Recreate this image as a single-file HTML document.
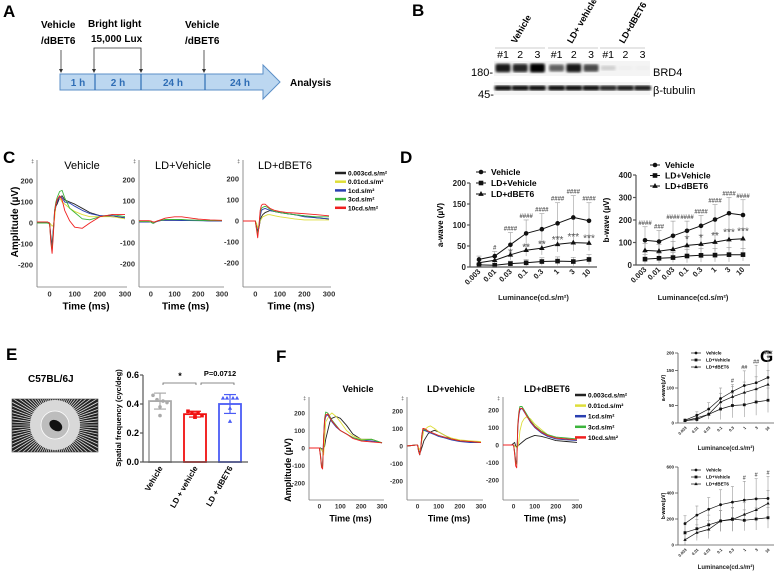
<!DOCTYPE html>
<html><head><meta charset="utf-8">
<style>
html,body{margin:0;padding:0;background:#fff;}
svg{display:block;font-family:"Liberation Sans",sans-serif;}
</style></head>
<body>
<svg id="fig" width="784" height="571" viewBox="0 0 784 571" xmlns="http://www.w3.org/2000/svg">
<defs>
<filter id="blur1"><feGaussianBlur stdDeviation="1.2"/></filter>
<clipPath id="imgclip"><rect x="12" y="399" width="86" height="53"/></clipPath>
</defs>
<!-- Panel A -->
<g>
<text x="3" y="17" font-size="17" font-weight="bold">A</text>
<polygon points="60,74 263,74 263,65 280,82 263,99 263,90 60,90" fill="#bcd7f0" stroke="#5b8fc7" stroke-width="1"/>
<line x1="95" y1="74" x2="95" y2="90" stroke="#2e6db5" stroke-width="1.2"/>
<line x1="141" y1="74" x2="141" y2="90" stroke="#2e6db5" stroke-width="1.2"/>
<line x1="205" y1="74" x2="205" y2="90" stroke="#2e6db5" stroke-width="1.2"/>
<g font-size="10" font-weight="bold" fill="#2e6db5" text-anchor="middle">
<text x="78" y="86">1 h</text>
<text x="118" y="86">2 h</text>
<text x="173" y="86">24 h</text>
<text x="240" y="86">24 h</text>
</g>
<text x="290" y="86" font-size="10" font-weight="bold">Analysis</text>
<g font-size="10" font-weight="bold">
<text x="41" y="28">Vehicle</text>
<text x="41" y="44">/dBET6</text>
<text x="88" y="27">Bright light</text>
<text x="91" y="42">15,000 Lux</text>
<text x="185" y="28">Vehicle</text>
<text x="185" y="44">/dBET6</text>
</g>
<g stroke="#333" stroke-width="0.8" fill="none">
<line x1="61" y1="50" x2="61" y2="70"/>
<polyline points="94,70 94,48 141,48 141,70"/>
<line x1="204" y1="50" x2="204" y2="70"/>
</g>
<g fill="#333"><polygon points="59,69 63,69 61,73"/><polygon points="92,69 96,69 94,73"/><polygon points="139,69 143,69 141,73"/><polygon points="202,69 206,69 204,73"/></g>
</g>
<!-- Panel B -->
<g id="panelB">
<text x="412" y="16" font-size="17" font-weight="bold">B</text>
<g font-size="9" font-weight="bold">
<text transform="translate(516,44) rotate(-60)">Vehicle</text>
<text transform="translate(572,44) rotate(-60)">LD+ vehicle</text>
<text transform="translate(624,44) rotate(-60)">LD+dBET6</text>
</g>
<g stroke="#ccc" stroke-width="1"><line x1="495" y1="48" x2="545" y2="48"/><line x1="548" y1="48" x2="598" y2="48"/><line x1="600" y1="48" x2="645" y2="48"/></g>
<rect x="494" y="61" width="156" height="15" fill="#f4f4f4"/>
<rect x="494" y="82" width="156" height="13" fill="#f4f4f4"/>
<text x="471" y="76" font-size="11">180-</text>
<text x="478" y="98" font-size="11">45-</text>
<text x="653" y="76" font-size="11">BRD4</text>
<text x="653" y="94" font-size="11">β-tubulin</text>
</g>
<g id="panelC">
<text x="3" y="163" font-size="17" font-weight="bold">C</text>
<text transform="translate(18,222) rotate(-90)" text-anchor="middle" font-size="10" font-weight="bold">Amplitude (µV)</text>
</g>
<g id="panelD">
<text x="400" y="163" font-size="17" font-weight="bold">D</text>
</g>
<g id="panelE">
<text x="6" y="360" font-size="17" font-weight="bold">E</text>
<text x="28" y="382" font-size="10" font-weight="bold">C57BL/6J</text>
</g>
<g id="panelF">
<text x="276" y="362" font-size="17" font-weight="bold">F</text>
<text transform="translate(291,470) rotate(-90)" text-anchor="middle" font-size="9" font-weight="bold">Amplitude (µV)</text>
</g>
<g id="panelG">
<text x="760" y="362" font-size="17" font-weight="bold">G</text>
</g>
</svg>
<script>
// ===== Data =====
const blotBRD4 = [0.9, 0.85, 1.0, 0.6, 0.9, 0.7, 0.15, 0.02, 0.02];
const blotTubulin = [0.95, 0.95, 0.95, 0.95, 0.95, 0.95, 0.85, 0.9, 0.9];
const laneLabels = ['#1','2','3','#1','2','3','#1','2','3'];

const ergTime = [-50,-10,0,5,10,15,20,25,30,40,50,60,80,100,130,160,200,250,300];
const ergLegend = ['0.003cd.s/m²','0.01cd.s/m²','1cd.s/m²','3cd.s/m²','10cd.s/m²'];
const ergColors = ['#222','#dede3a','#2a3fb0','#3cb43c','#f02020'];
const cVehicle = [
 [5,5,0,-60,-110,-30,40,80,90,120,130,110,100,90,70,50,35,30,25],
 [0,0,0,-5,-15,-10,20,100,110,120,100,90,70,55,40,30,30,30,20],
 [5,5,0,-70,-120,-40,60,90,100,125,120,100,95,80,60,45,35,35,25],
 [0,0,-5,-80,-130,-50,60,100,120,150,155,120,70,50,20,15,30,40,30],
 [5,5,0,-90,-145,-60,50,90,110,130,110,60,10,-20,-25,0,30,40,40]];
const cLDVehicle = [
 [0,0,0,-3,-5,-3,0,3,5,8,8,8,8,8,8,8,8,5,5],
 [2,2,0,-2,-4,-2,0,2,4,6,8,9,10,10,9,8,8,6,6],
 [0,0,0,-4,-6,-4,0,2,4,6,8,8,8,8,7,7,6,5,5],
 [2,2,0,-4,-6,-3,2,4,6,8,10,12,12,12,12,10,8,7,7],
 [6,6,5,2,0,0,2,4,6,10,14,18,22,25,25,20,14,10,8]];
const cLDdBET6 = [
 [0,0,0,-20,-50,-30,0,20,30,40,45,50,45,40,35,30,25,15,10],
 [0,0,0,-10,-30,-20,0,10,20,25,30,30,25,20,15,10,5,5,5],
 [0,0,0,-30,-60,-30,20,50,55,60,55,50,45,40,35,30,20,15,10],
 [0,0,0,-35,-65,-20,40,60,65,70,65,55,45,40,35,30,25,20,20],
 [0,0,0,-40,-80,-20,50,75,80,80,70,60,50,45,40,38,35,30,25]];
const fVehicle = [
 [0,0,0,0,-5,-5,-5,10,50,100,150,170,180,170,130,80,50,50,30],
 [0,0,0,-5,-10,-20,-40,50,150,170,190,200,180,150,100,70,50,50,30],
 [0,0,0,-40,-100,-100,50,150,180,190,170,150,120,100,80,60,45,40,30],
 [0,0,0,-40,-100,-110,60,170,205,200,180,160,130,100,80,60,45,50,30],
 [0,0,0,-50,-110,-120,50,160,190,195,175,155,125,100,80,55,40,35,30]];
const fLDVehicle = [
 [0,5,5,-20,-40,-30,-10,10,30,50,70,80,90,80,60,40,30,25,20],
 [0,5,5,-10,-20,-10,30,60,90,100,110,115,100,80,60,45,35,30,25],
 [0,5,5,-30,-50,-20,50,90,90,85,80,75,65,55,45,35,25,20,20],
 [0,5,5,-30,-50,-20,60,95,95,90,85,80,70,60,50,40,30,25,20],
 [0,5,5,-30,-50,-20,60,100,100,95,85,80,70,60,50,40,30,25,20]];
const fLDdBET6 = [
 [0,0,10,15,-5,-10,-5,0,5,15,25,35,45,55,50,40,25,20,15],
 [0,0,0,-5,-10,-15,-10,20,80,130,150,160,150,120,90,60,40,30,30],
 [0,0,0,-40,-90,-100,100,170,200,210,190,170,130,100,70,50,35,30,25],
 [0,0,0,-40,-100,-110,120,190,220,220,200,180,140,110,80,60,45,40,35],
 [0,0,0,-50,-120,-130,110,180,210,210,195,170,135,105,75,55,40,35,30]];

const lumCats = ['0.003','0.01','0.03','0.1','0.3','1','3','10'];
const groupNames = ['Vehicle','LD+Vehicle','LD+dBET6'];
const dA_vehicle = [18,26,53,80,90,104,118,110];
const dA_vehicleErr = [8,11,29,32,37,49,52,43];
const dA_ldveh = [5,4,8,10,13,14,13,18];
const dA_ldvehErr = [4,4,6,8,9,10,10,12];
const dA_dbet6 = [10,16,29,40,45,54,58,57];
const dA_dbet6Err = [6,8,12,14,16,18,20,18];
const dA_hash = ['','#','####','####','####','####','####','####'];
const dA_star = ['','','*','**','**','***','***','***'];
const dB_vehicle = [110,104,130,152,174,202,230,222];
const dB_vehicleErr = [60,49,65,43,46,66,70,68];
const dB_ldveh = [26,30,33,40,43,44,46,46];
const dB_ldvehErr = [20,22,22,30,30,30,32,28];
const dB_dbet6 = [65,62,70,87,93,102,113,117];
const dB_dbet6Err = [30,30,35,40,40,40,45,45];
const dB_hash = ['####','###','####','####','####','####','####','####'];
const dB_star = ['','','','*','*','**','***','***'];

const eGroups = ['Vehicle','LD + vehicle','LD + dBET6'];
const eMeans = [0.42,0.33,0.40];
const eSD = [0.055,0.02,0.065];
const ePoints = [[0.46,0.43,0.42,0.41,0.38,0.32],[0.35,0.34,0.34,0.32,0.31,0.31],[0.44,0.44,0.44,0.44,0.37,0.28]];
const eColors = ['#aaa','#f01010','#4a5cf5'];

const gA_vehicle = [8,22,40,70,90,107,115,130];
const gA_vehicleErr = [4,10,18,30,20,42,50,60];
const gA_ldveh = [7,10,25,40,50,52,60,65];
const gA_ldvehErr = [4,8,12,30,35,35,38,35];
const gA_dbet6 = [6,15,25,60,75,87,97,110];
const gA_dbet6Err = [4,10,14,25,30,30,35,40];
const gA_hash = ['','','','','#','##','##','###'];
const gB_vehicle = [165,230,275,310,330,345,355,358];
const gB_vehicleErr = [60,70,90,115,120,145,155,170];
const gB_ldveh = [95,125,155,185,200,190,200,210];
const gB_ldvehErr = [60,70,75,80,90,80,85,80];
const gB_dbet6 = [40,95,120,185,195,235,270,320];
const gB_dbet6Err = [40,60,70,80,90,90,90,100];
const gB_hash = ['','','','','','#','#','#'];

// ===== Helpers =====
const NS='http://www.w3.org/2000/svg';
function mk(parent, tag, attrs, name){
  const el=document.createElementNS(NS,tag);
  for(const k in attrs) el.setAttribute(k,attrs[k]);
  
  
  parent.appendChild(el);
  return el;
}
function txt(parent,x,y,s,size,name,extra){
  const a=Object.assign({x:x,y:y,'font-size':size},extra||{});
  const t=mk(parent,'text',a,name); t.textContent=s; return t;
}

// ===== Panel B blot =====
(function(){
  const g=document.getElementById('panelB');
  const laneX=(i)=>503+i*17.2+(i>=3?2:0);
  laneLabels.forEach((l,i)=>{ txt(g,laneX(i),58,l,10.5,'lane-label-'+i,{'text-anchor':'middle'}); });
  blotBRD4.forEach((v,i)=>{
    mk(g,'rect',{x:laneX(i)-7.5,y:68-2-v*2.5,width:15,height:4+v*5,rx:2,fill:'#000','fill-opacity':v,filter:'url(#blur1)'},'brd4-band-'+i);
  });
  blotTubulin.forEach((v,i)=>{
    mk(g,'rect',{x:laneX(i)-8.5,y:85.5,width:17,height:5,rx:2,fill:'#000','fill-opacity':v,filter:'url(#blur1)'},'tubulin-band-'+i);
  });
})();

// ===== ERG trace panels =====
function ergPlot(g,cfg,data,id){
  const xs=t=>cfg.x0+(t-(-50))*(cfg.x300-cfg.x0)/350;
  const ys=v=>cfg.zy-v*cfg.k;
  mk(g,'line',{x1:cfg.x0,y1:cfg.top,x2:cfg.x0,y2:cfg.bot,stroke:'#777','stroke-width':0.8},id+'-y-axis');
  mk(g,'line',{x1:cfg.x0,y1:cfg.bot,x2:cfg.x300+2,y2:cfg.bot,stroke:'#777','stroke-width':0.8},id+'-x-axis');
  txt(g,cfg.x0-3,cfg.top+3,'‡',5,id+'-axis-mark',{'text-anchor':'end',fill:'#555'});
  [200,100,0,-100,-200].forEach(v=>{
    txt(g,cfg.x0-4,ys(v)+2.5,String(v),cfg.fs,id+'-ytick-'+v,{'text-anchor':'end','font-weight':'bold',fill:'#333'});
  });
  [0,100,200,300].forEach(v=>{
    txt(g,xs(v),cfg.bot+cfg.fs+2,String(v),cfg.fs,id+'-xtick-'+v,{'text-anchor':'middle','font-weight':'bold',fill:'#333'});
  });
  txt(g,(cfg.x0+cfg.x300)/2+5,cfg.bot+cfg.fs+15,'Time (ms)',cfg.fs+2.5,id+'-x-title',{'text-anchor':'middle','font-weight':'bold'});
  txt(g,cfg.titleX,cfg.titleY,cfg.title,cfg.tfs,id+'-title',{'text-anchor':'middle','font-weight':cfg.tbold?'bold':'normal'});
  data.forEach((series,si)=>{
    const pts=series.map((v,i)=>xs(ergTime[i]).toFixed(1)+','+ys(v).toFixed(1)).join(' ');
    mk(g,'polyline',{points:pts,fill:'none',stroke:ergColors[si],'stroke-width':0.9,'stroke-linejoin':'round'},id+'-trace-'+si);
  });
}
function ergLegendDraw(g,x,y,dy,id){
  ergLegend.forEach((l,i)=>{
    mk(g,'line',{x1:x,y1:y+i*dy,x2:x+11,y2:y+i*dy,stroke:ergColors[i],'stroke-width':2.5},id+'-legend-swatch-'+i);
    txt(g,x+13,y+i*dy+2.5,l,6.5,id+'-legend-entry-'+i,{'font-weight':'bold'});
  });
}
(function(){
  const g=document.getElementById('panelC');
  const base={top:160,bot:287,zy:223,k:0.21,fs:7.5,titleY:169,tfs:11,tbold:false};
  ergPlot(g,Object.assign({},base,{x0:37,x300:125,title:'Vehicle',titleX:82}),cVehicle,'c-vehicle');
  ergPlot(g,Object.assign({},base,{x0:139,x300:222,zy:222,title:'LD+Vehicle',titleX:183}),cLDVehicle,'c-ld-vehicle');
  ergPlot(g,Object.assign({},base,{x0:243,x300:329,zy:221,title:'LD+dBET6',titleX:285}),cLDdBET6,'c-ld-dbet6');
  ergLegendDraw(g,335,173,8.7,'c');
  const f=document.getElementById('panelF');
  const fb={top:397,bot:500,zy:448,k:0.175,fs:6.5,titleY:392,tfs:9,tbold:true};
  ergPlot(f,Object.assign({},fb,{x0:309,x300:382,title:'Vehicle',titleX:358}),fVehicle,'f-vehicle');
  ergPlot(f,Object.assign({},fb,{x0:407,x300:481,zy:446,title:'LD+vehicle',titleX:451}),fLDVehicle,'f-ld-vehicle');
  ergPlot(f,Object.assign({},fb,{x0:503,x300:577,zy:445,title:'LD+dBET6',titleX:547}),fLDdBET6,'f-ld-dbet6');
  ergLegendDraw(f,575,395,10.6,'f');
})();

// ===== Luminance line charts =====
function marker(g,type,x,y,s,name,col){
  if(type===0) mk(g,'circle',{cx:x,cy:y,r:s,fill:col},name);
  else if(type===1) mk(g,'rect',{x:x-s,y:y-s,width:2*s,height:2*s,fill:col},name);
  else mk(g,'polygon',{points:`${x},${y-s*1.3} ${x+s*1.2},${y+s*0.8} ${x-s*1.2},${y+s*0.8}`,fill:col},name);
}
function lumChart(g,c,series,errs,hash,star,id){
  const xs=i=>c.xf+i*(c.xl-c.xf)/(lumCats.length-1);
  const ys=v=>c.zy-v*c.k;
  series.forEach((s,si)=>{
    s.forEach((v,i)=>{
      const e=errs[si][i];
      mk(g,'line',{x1:xs(i),y1:ys(v+e),x2:xs(i),y2:ys(Math.max(v-e,0)),stroke:'#999','stroke-width':0.6},id+'-err-'+si+'-'+i);
      mk(g,'line',{x1:xs(i)-c.cap,y1:ys(v+e),x2:xs(i)+c.cap,y2:ys(v+e),stroke:'#999','stroke-width':0.6},id+'-errcap-'+si+'-'+i);
    });
  });
  series.forEach((s,si)=>{
    const pts=s.map((v,i)=>xs(i).toFixed(1)+','+ys(v).toFixed(1)).join(' ');
    mk(g,'polyline',{points:pts,fill:'none',stroke:'#111','stroke-width':c.lw},id+'-line-'+si);
    s.forEach((v,i)=>marker(g,si,xs(i),ys(v),c.ms,id+'-point-'+si+'-'+i,'#111'));
  });
  mk(g,'line',{x1:c.ax,y1:ys(c.ymax),x2:c.ax,y2:c.zy,stroke:'#555','stroke-width':c.aw},id+'-y-axis');
  mk(g,'line',{x1:c.ax,y1:c.zy,x2:c.axEnd,y2:c.zy,stroke:'#555','stroke-width':c.aw},id+'-x-axis');
  c.ticks.forEach(v=>{
    mk(g,'line',{x1:c.ax-3,y1:ys(v),x2:c.ax,y2:ys(v),stroke:'#555','stroke-width':c.aw},id+'-ytickmark-'+v);
    txt(g,c.ax-4,ys(v)+c.fs*0.35,String(v),c.fs,id+'-ytick-'+v,{'text-anchor':'end','font-weight':'bold',fill:'#222'});
  });
  lumCats.forEach((l,i)=>{
    txt(g,0,0,l,c.xfs,id+'-xtick-'+l,{'text-anchor':'end','font-weight':'bold',fill:'#222',transform:`translate(${xs(i)+2},${c.zy+5}) rotate(-45)`});
  });
  txt(g,(c.ax+c.axEnd)/2,c.lumY,'Luminance(cd.s/m²)',c.lfs,id+'-x-title',{'text-anchor':'middle','font-weight':'bold',fill:'#222'});
  txt(g,0,0,c.ytitle,c.yfs,id+'-y-title',{'text-anchor':'middle','font-weight':'bold',transform:`translate(${c.ytx},${c.zy-c.ymax*c.k/2}) rotate(-90)`});
  groupNames.forEach((n,i)=>{
    const ly=c.legY+i*c.legDy;
    mk(g,'line',{x1:c.legX-5,y1:ly,x2:c.legX+5,y2:ly,stroke:'#111','stroke-width':c.lw},id+'-legend-line-'+i);
    marker(g,i,c.legX,ly,c.ms,id+'-legend-marker-'+i,'#111');
    txt(g,c.legX+10,ly+c.legFs*0.35,n,c.legFs,id+'-legend-entry-'+i,{'font-weight':'bold'});
  });
  hash.forEach((h,i)=>{ if(h){ const top=series[0][i]+errs[0][i];
    txt(g,xs(i),ys(top)-2,h,c.hfs,id+'-hash-'+i,{'text-anchor':'middle',fill:'#555','font-weight':'bold'});}});
  if(star) star.forEach((s,i)=>{ if(s){
    txt(g,xs(i),ys(series[2][i]+errs[2][i])+6,s,c.sfs,id+'-star-'+i,{'text-anchor':'middle',fill:'#555'});}});
}
(function(){
  const g=document.getElementById('panelD');
  const base={cap:2.5,lw:1,ms:2.3,aw:1.2,fs:8,xfs:7.5,lfs:7.5,yfs:8,legFs:8.5,hfs:6,sfs:10};
  lumChart(g,Object.assign({},base,{xf:479,xl:589,zy:267,k:0.42,ymax:200,ticks:[0,50,100,150,200],ax:470,axEnd:597,lumY:300,ytitle:'a-wave (µV)',ytx:443,legX:481,legY:172,legDy:11}),
    [dA_vehicle,dA_ldveh,dA_dbet6],[dA_vehicleErr,dA_ldvehErr,dA_dbet6Err],dA_hash,dA_star,'d-a-wave');
  lumChart(g,Object.assign({},base,{xf:645,xl:743,zy:265,k:0.225,ymax:400,ticks:[0,100,200,300,400],ax:636,axEnd:750,lumY:300,ytitle:'b-wave (µV)',ytx:609,legX:655,legY:165,legDy:10.5}),
    [dB_vehicle,dB_ldveh,dB_dbet6],[dB_vehicleErr,dB_ldvehErr,dB_dbet6Err],dB_hash,dB_star,'d-b-wave');
  const h=document.getElementById('panelG');
  const gb={cap:1.5,lw:0.7,ms:1.4,aw:0.8,fs:4.5,xfs:4,lfs:6,yfs:5,legFs:4.5,hfs:5.5,sfs:6};
  lumChart(h,Object.assign({},gb,{xf:685,xl:768,zy:423,k:0.35,ymax:200,ticks:[0,50,100,150,200],ax:678,axEnd:774,lumY:450,ytitle:'a-wave(µV)',ytx:665,legX:696,legY:353,legDy:7}),
    [gA_vehicle,gA_ldveh,gA_dbet6],[gA_vehicleErr,gA_ldvehErr,gA_dbet6Err],gA_hash,null,'g-a-wave');
  lumChart(h,Object.assign({},gb,{xf:685,xl:768,zy:545,k:0.13,ymax:600,ticks:[0,200,400,600],ax:678,axEnd:774,lumY:569,ytitle:'b-wave(µV)',ytx:665,legX:696,legY:470,legDy:7}),
    [gB_vehicle,gB_ldveh,gB_dbet6],[gB_vehicleErr,gB_ldvehErr,gB_dbet6Err],gB_hash,null,'g-b-wave');
})();

// ===== Panel E =====
(function(){
  const g=document.getElementById('panelE');
  const im=mk(g,'g',{'clip-path':'url(#imgclip)'},'optomotor-image');
  mk(im,'rect',{x:12,y:399,width:86,height:53,fill:'#222'},'image-background');
  const cx=55,cy=425;
  for(let a=0;a<360;a+=4){
    const r=a*Math.PI/180;
    mk(im,'line',{x1:cx,y1:cy,x2:cx+80*Math.cos(r),y2:cy+80*Math.sin(r),stroke:'#ddd','stroke-width':0.8},'grating-line');
  }
  mk(im,'circle',{cx:cx,cy:cy,r:25,fill:'#d8d8d8'},'platform-outer');
  mk(im,'circle',{cx:cx,cy:cy,r:14,fill:'#bdbdbd',stroke:'#fff','stroke-width':0.8},'platform-inner');
  mk(im,'ellipse',{cx:cx+1,cy:cy,rx:7,ry:5,fill:'#111',transform:`rotate(35 ${cx} ${cy})`},'mouse');
  mk(g,'rect',{x:12,y:399,width:86,height:53,fill:'none',stroke:'#444','stroke-width':0.6},'image-border');
  const ax=143, zy=462, k=145;
  const ys=v=>zy-v*k;
  const bx=[160,195,230], bw=22;
  eMeans.forEach((m,i)=>{
    mk(g,'rect',{x:bx[i]-bw/2,y:ys(m),width:bw,height:m*k,fill:'#fff',stroke:eColors[i],'stroke-width':1.8},'bar-'+i);
    mk(g,'line',{x1:bx[i],y1:ys(m+eSD[i]),x2:bx[i],y2:ys(m-eSD[i]),stroke:eColors[i],'stroke-width':1.2},'bar-err-'+i);
    mk(g,'line',{x1:bx[i]-6,y1:ys(m+eSD[i]),x2:bx[i]+6,y2:ys(m+eSD[i]),stroke:eColors[i],'stroke-width':1.2},'bar-errcap-top-'+i);
    mk(g,'line',{x1:bx[i]-6,y1:ys(m-eSD[i]),x2:bx[i]+6,y2:ys(m-eSD[i]),stroke:eColors[i],'stroke-width':1.2},'bar-errcap-bot-'+i);
    ePoints[i].forEach((p,j)=>{
      const px=bx[i]+[-7,-3,3,7,0,0][j];
      marker(g,i,px,ys(p),1.8,'bar-point-'+i+'-'+j,eColors[i]);
    });
    txt(g,0,0,eGroups[i],8,'e-xtick-'+i,{'text-anchor':'end','font-weight':'bold',transform:`translate(${bx[i]+3},${zy+6}) rotate(-60)`});
  });
  mk(g,'line',{x1:ax,y1:ys(0.6),x2:ax,y2:zy,stroke:'#555','stroke-width':1.2},'e-y-axis');
  mk(g,'line',{x1:ax,y1:zy,x2:248,y2:zy,stroke:'#555','stroke-width':1.2},'e-x-axis');
  [0,0.2,0.4,0.6].forEach(v=>{
    mk(g,'line',{x1:ax-3,y1:ys(v),x2:ax,y2:ys(v),stroke:'#555','stroke-width':1.2},'e-ytickmark');
    txt(g,ax-4,ys(v)+3,v.toFixed(1),9,'e-ytick-'+v,{'text-anchor':'end','font-weight':'bold'});
  });
  txt(g,0,0,'Spatial frequency (cyc/deg)',7.5,'e-y-title',{'text-anchor':'middle','font-weight':'bold',transform:'translate(121,418) rotate(-90)'});
  mk(g,'polyline',{points:'163,385 163,383 196,383 196,385',fill:'none',stroke:'#666','stroke-width':0.8},'sig-bracket-1');
  txt(g,180,379,'*',9,'sig-star',{'text-anchor':'middle','font-weight':'bold'});
  mk(g,'polyline',{points:'201,385 201,383 234,383 234,385',fill:'none',stroke:'#666','stroke-width':0.8},'sig-bracket-2');
  txt(g,220,376,'P=0.0712',7.5,'sig-pvalue',{'text-anchor':'middle','font-weight':'bold'});
})();
</script>
</body></html>
